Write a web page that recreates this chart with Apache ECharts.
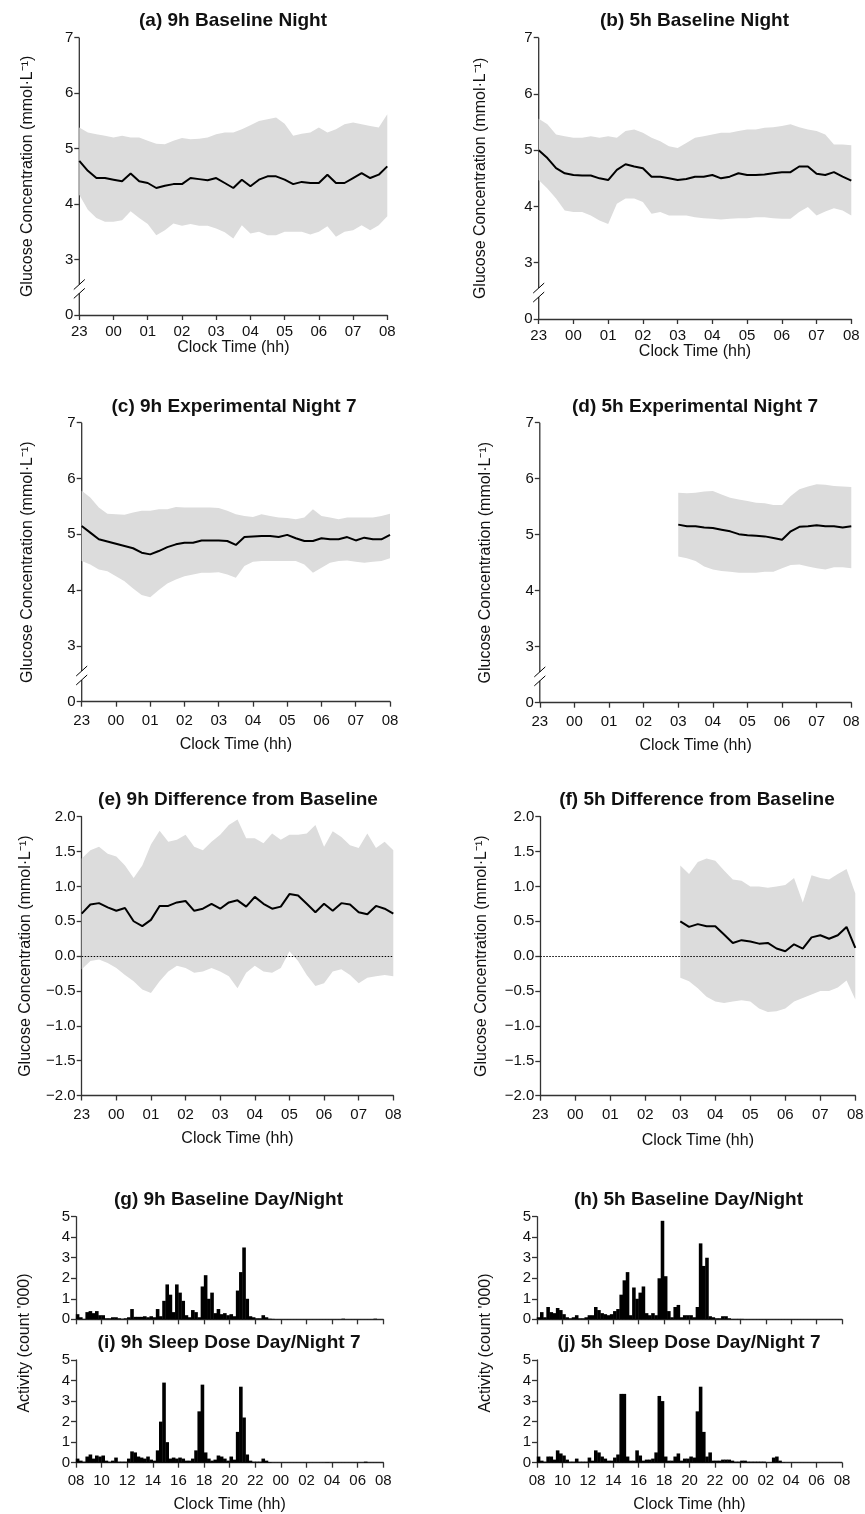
<!DOCTYPE html>
<html><head><meta charset="utf-8">
<script src="https://cdn.jsdelivr.net/npm/echarts@6/dist/echarts.min.js"></script>
<style>html,body{margin:0;padding:0;background:#fff}#c{width:865px;height:1514px}</style>
</head><body><div id="c"></div>
<script>
// ---------- DATA ----------
// Glucose panels: sampled every 15 min from 23:00 (hours after 23:00)
const nightHours = Array.from({length:37},(_,i)=>i*0.25);      // 23:00 .. 08:00
const lateHours  = Array.from({length:21},(_,i)=>4+i*0.25);    // 03:00 .. 08:00
const nightTickLabels = ['23','00','01','02','03','04','05','06','07','08'];
const dayTickLabels = ['08','10','12','14','16','18','20','22','00','02','04','06','08'];

const a_mean=[4.78,4.6,4.47,4.47,4.44,4.41,4.55,4.41,4.38,4.29,4.33,4.36,4.36,4.47,4.45,4.43,4.47,4.38,4.29,4.44,4.32,4.44,4.5,4.5,4.44,4.36,4.4,4.38,4.38,4.53,4.38,4.38,4.47,4.56,4.47,4.53,4.68];
const a_up=[5.38,5.29,5.26,5.23,5.2,5.23,5.2,5.2,5.14,5.09,5.08,5.14,5.19,5.17,5.18,5.2,5.26,5.29,5.29,5.35,5.42,5.5,5.53,5.56,5.45,5.23,5.27,5.29,5.38,5.29,5.35,5.44,5.47,5.44,5.41,5.38,5.62];
const a_lo=[4.17,3.9,3.75,3.68,3.68,3.71,3.87,3.75,3.64,3.44,3.53,3.65,3.61,3.64,3.61,3.61,3.56,3.49,3.38,3.62,3.47,3.5,3.44,3.44,3.5,3.5,3.5,3.45,3.5,3.6,3.41,3.5,3.53,3.62,3.53,3.62,3.78];

const b_mean=[5.0,4.86,4.68,4.59,4.56,4.55,4.55,4.5,4.47,4.65,4.75,4.71,4.68,4.53,4.53,4.5,4.47,4.49,4.53,4.53,4.56,4.5,4.53,4.59,4.56,4.56,4.57,4.59,4.61,4.61,4.71,4.71,4.58,4.56,4.61,4.53,4.46];
const b_up=[5.56,5.46,5.28,5.25,5.22,5.22,5.25,5.22,5.25,5.22,5.34,5.37,5.31,5.22,5.16,5.07,5.04,5.13,5.22,5.25,5.28,5.31,5.31,5.34,5.37,5.37,5.4,5.41,5.43,5.46,5.41,5.37,5.34,5.28,5.1,5.1,5.09];
const b_lo=[4.47,4.32,4.14,3.93,3.9,3.9,3.84,3.75,3.69,4.05,4.14,4.14,4.08,3.87,3.9,3.84,3.84,3.84,3.81,3.79,3.78,3.77,3.78,3.79,3.79,3.81,3.81,3.79,3.78,3.78,3.9,3.99,3.84,3.91,3.97,3.93,3.84];

const c_mean=[5.15,5.03,4.91,4.87,4.83,4.79,4.75,4.67,4.64,4.7,4.77,4.82,4.85,4.85,4.89,4.89,4.89,4.88,4.81,4.95,4.96,4.97,4.97,4.95,4.99,4.93,4.88,4.88,4.93,4.91,4.91,4.95,4.89,4.94,4.91,4.91,4.99];
const c_up=[5.78,5.66,5.48,5.37,5.36,5.35,5.39,5.42,5.42,5.45,5.45,5.49,5.48,5.48,5.48,5.48,5.47,5.42,5.36,5.33,5.31,5.36,5.33,5.3,5.29,5.27,5.3,5.45,5.33,5.3,5.27,5.3,5.3,5.3,5.3,5.33,5.37];
const c_lo=[4.52,4.46,4.37,4.34,4.25,4.16,4.03,3.91,3.87,4.0,4.12,4.19,4.25,4.28,4.31,4.31,4.32,4.28,4.22,4.43,4.51,4.52,4.52,4.52,4.52,4.52,4.46,4.31,4.4,4.49,4.52,4.53,4.51,4.49,4.51,4.52,4.57];

const d_mean=[5.18,5.15,5.15,5.13,5.12,5.09,5.06,5.01,4.99,4.98,4.97,4.94,4.91,5.06,5.14,5.15,5.17,5.15,5.15,5.13,5.15];
const d_up=[5.75,5.74,5.75,5.77,5.78,5.72,5.66,5.63,5.6,5.57,5.56,5.53,5.53,5.69,5.81,5.86,5.9,5.89,5.87,5.86,5.85];
const d_lo=[4.61,4.58,4.53,4.43,4.38,4.35,4.34,4.32,4.32,4.32,4.34,4.34,4.4,4.46,4.47,4.43,4.4,4.38,4.42,4.42,4.4];

const e_mean=[0.61,0.74,0.76,0.7,0.65,0.69,0.5,0.43,0.52,0.72,0.72,0.77,0.79,0.65,0.68,0.75,0.68,0.77,0.8,0.71,0.85,0.75,0.68,0.71,0.89,0.87,0.75,0.63,0.75,0.65,0.76,0.74,0.63,0.6,0.72,0.68,0.61];
const e_up=[1.4,1.52,1.57,1.47,1.43,1.3,1.12,1.3,1.6,1.8,1.64,1.67,1.74,1.57,1.52,1.64,1.74,1.88,1.96,1.69,1.69,1.62,1.76,1.67,1.74,1.74,1.76,1.88,1.57,1.79,1.71,1.59,1.55,1.76,1.55,1.64,1.52];
const e_lo=[-0.19,-0.07,-0.05,-0.1,-0.17,-0.27,-0.36,-0.48,-0.53,-0.36,-0.22,-0.14,-0.17,-0.24,-0.22,-0.17,-0.22,-0.29,-0.46,-0.24,-0.14,-0.22,-0.24,-0.17,0.07,-0.07,-0.27,-0.43,-0.39,-0.22,-0.19,-0.27,-0.39,-0.31,-0.29,-0.27,-0.29];

const f_mean=[0.5,0.42,0.46,0.43,0.43,0.31,0.19,0.23,0.21,0.18,0.19,0.11,0.07,0.17,0.11,0.27,0.3,0.25,0.3,0.42,0.12];
const f_up=[1.3,1.18,1.35,1.4,1.37,1.23,1.1,1.08,1.0,1.0,0.98,1.0,1.02,1.12,0.77,1.16,1.12,1.1,1.18,1.25,0.9];
const f_lo=[-0.31,-0.36,-0.46,-0.58,-0.65,-0.67,-0.65,-0.63,-0.65,-0.75,-0.8,-0.79,-0.75,-0.65,-0.6,-0.55,-0.5,-0.5,-0.45,-0.35,-0.62];

// Activity panels: 15-min bins from 08:00 (bin centres, hours after 08:00)
const dayBins = Array.from({length:96},(_,i)=>i*0.25+0.125);
const g_act=[
0.25,0.1,0.02,0.35, 0.4,0.3,0.4,0.2, 0.2,0.05,0.05,0.1, 0.1,0.05,0.03,0.05,
0.1,0.5,0.12,0.12, 0.12,0.15,0.1,0.15, 0.1,0.5,0.15,0.9, 1.7,1.2,0.35,1.7,
1.3,0.9,0.2,0.1, 0.45,0.35,0.1,1.6, 2.15,1.0,1.3,0.3, 0.5,0.25,0.3,0.2,
0.25,0.15,1.4,2.3, 3.5,1.0,0.15,0.1, 0.05,0.05,0.2,0.1, 0.03,0.02,0.01,0.01,
0.01,0.01,0.01,0.01, 0.01,0.01,0.01,0.01, 0.01,0.01,0.01,0.01, 0.01,0.01,0.01,0.01,
0.01,0.01,0.01,0.03, 0.01,0.01,0.01,0.01, 0.01,0.01,0.01,0.01, 0.01,0.03,0.01,0.01];
const h_act=[
0.1,0.35,0.1,0.6, 0.35,0.3,0.55,0.45, 0.25,0.1,0.05,0.1, 0.2,0.05,0.05,0.1,
0.2,0.2,0.6,0.45, 0.3,0.25,0.2,0.25, 0.4,0.5,1.2,1.9, 2.3,0.2,1.55,1.0,
1.3,1.6,0.3,0.2, 0.3,0.2,2.0,4.8, 2.1,0.4,0.1,0.6, 0.7,0.1,0.2,0.2,
0.2,0.1,0.6,3.7, 2.6,3.0,0.15,0.1, 0.05,0.05,0.15,0.15, 0.05,0.02,0.02,0.02,
0.02,0.01,0.01,0.01, 0.01,0.01,0.01,0.01, 0.01,0.01,0.01,0.01, 0.01,0.01,0.01,0.01,
0.01,0.01,0.01,0.01, 0.01,0.01,0.01,0.01, 0.01,0.01,0.01,0.01, 0.01,0.01,0.01,0.01];
const i_act=[
0.2,0.1,0.05,0.3, 0.4,0.2,0.35,0.3, 0.35,0.1,0.05,0.1, 0.25,0.05,0.05,0.05,
0.2,0.55,0.5,0.3, 0.25,0.2,0.3,0.15, 0.1,0.6,2.0,3.9, 1.0,0.2,0.25,0.2,
0.25,0.2,0.1,0.1, 0.2,0.6,2.5,3.8, 0.5,0.2,0.1,0.15, 0.35,0.3,0.2,0.1,
0.3,0.15,1.5,3.7, 2.2,0.4,0.1,0.05, 0.05,0.05,0.2,0.1, 0.03,0.01,0.01,0.01,
0.01,0.01,0.01,0.01, 0.01,0.01,0.01,0.01, 0.01,0.01,0.01,0.01, 0.01,0.01,0.02,0.01,
0.01,0.01,0.01,0.01, 0.01,0.01,0.01,0.01, 0.01,0.01,0.05,0.01, 0.01,0.01,0.01,0.01];
const j_act=[
0.3,0.1,0.05,0.3, 0.3,0.15,0.6,0.45, 0.35,0.15,0.05,0.05, 0.2,0.05,0.05,0.05,
0.25,0.1,0.6,0.5, 0.3,0.2,0.1,0.1, 0.25,0.4,3.35,3.35, 0.3,0.1,0.1,0.6,
0.35,0.1,0.15,0.15, 0.2,0.5,3.25,3.0, 0.3,0.1,0.1,0.3, 0.45,0.1,0.2,0.2,
0.3,0.25,2.5,3.7, 1.5,0.3,0.5,0.1, 0.1,0.1,0.15,0.15, 0.15,0.1,0.05,0.05,
0.1,0.1,0.05,0.05, 0.05,0.05,0.05,0.05, 0.02,0.02,0.25,0.3, 0.1,0.02,0.01,0.01,
0.01,0.01,0.01,0.01, 0.01,0.01,0.01,0.01, 0.01,0.01,0.01,0.01, 0.01,0.01,0.01,0.01];

const titles = {
 a:'(a) 9h Baseline Night', b:'(b) 5h Baseline Night',
 c:'(c) 9h Experimental Night 7', d:'(d) 5h Experimental Night 7',
 e:'(e) 9h Difference from Baseline', f:'(f) 5h Difference from Baseline',
 g:'(g) 9h Baseline Day/Night', h:'(h) 5h Baseline Day/Night',
 i:'(i) 9h Sleep Dose Day/Night 7', j:'(j) 5h Sleep Dose Day/Night 7'
};
const glucoseName = 'Glucose Concentration (mmol·L⁻¹)';
const clockName = 'Clock Time (hh)';
const activityName = "Activity (count '000)";

// ---------- LAYOUT / STYLE ----------
const FONT = '"Liberation Sans", Arial, Helvetica, sans-serif';
const AX = '#333';
const TXT = '#111';
const BAND = '#dcdcdc';
const L = {
 a:{left:79.3,top:37.7,width:308,height:277.3,tx:233,ty:21,yGap:44,xMargin:9,xGap:25},
 b:{left:538.7,top:37.7,width:312.6,height:281.3,tx:694.5,ty:21,yGap:50,xMargin:9,xGap:23},
 c:{left:81.7,top:422.7,width:308.3,height:279,tx:234,ty:407,yGap:46,xMargin:12,xGap:35},
 d:{left:539.8,top:422.7,width:311.5,height:280,tx:695,ty:407,yGap:46,xMargin:12,xGap:35},
 e:{left:81.7,top:816.7,width:311.6,height:278.8,tx:238,ty:800,yGap:48,xMargin:12,xGap:35},
 f:{left:540.3,top:816.7,width:315,height:279,tx:697,ty:800,yGap:51,xMargin:12,xGap:37},
 g:{left:76,top:1216.7,width:307.3,height:102.6,tx:228.5,ty:1200},
 h:{left:537,top:1216.7,width:305,height:102.6,tx:688.5,ty:1200},
 i:{left:76,top:1360,width:307.3,height:102.7,tx:229,ty:1343,xMargin:11,xGap:34},
 j:{left:537,top:1360,width:305,height:102.7,tx:689,ty:1343,xMargin:11,xGap:34}
};

const grids=[], xAxes=[], yAxes=[], series=[], graphics=[];
const axLine = {show:true,onZero:false,lineStyle:{color:AX,width:1.3}};
const axTick = {show:true,inside:false,length:5,lineStyle:{color:AX,width:1.3}};
const lbl = {color:TXT,fontSize:15,fontFamily:FONT,showMinLabel:true,showMaxLabel:true};
const nameStyle = {color:TXT,fontSize:16,fontFamily:FONT};

function addGrid(lay){
  grids.push({left:lay.left,top:lay.top,width:lay.width,height:lay.height,containLabel:false,outerBoundsMode:'none'});
  return grids.length-1;
}
function glucosePanel(key, hours, mean, up, lo, isDiff){
  const lay=L[key], k=addGrid(lay);
  xAxes.push({gridIndex:k,type:'value',min:0,max:9,interval:1,axisLine:axLine,axisTick:axTick,splitLine:{show:false},
    axisLabel:Object.assign({},lbl,{margin:lay.xMargin,formatter:v=>nightTickLabels[Math.round(v)]}),
    name:clockName,nameLocation:'middle',nameGap:lay.xGap,nameTextStyle:nameStyle});
  const y={gridIndex:k,type:'value',axisTick:axTick,splitLine:{show:false},
    name:glucoseName,nameLocation:'middle',nameRotate:90,nameGap:lay.yGap,nameTextStyle:nameStyle};
  if(isDiff){
    Object.assign(y,{min:-2,max:2,interval:0.5,axisLine:axLine,
      axisLabel:Object.assign({},lbl,{margin:6,formatter:v=>v.toFixed(1).replace('-','\u2212')})});
  } else {
    Object.assign(y,{min:2,max:7,interval:1,axisLine:{show:false},
      axisLabel:Object.assign({},lbl,{margin:6,formatter:v=>v===2?'0':String(v)})});
  }
  yAxes.push(y);
  // SD band: polygon through upper values then back through lower values, placed by the axes
  series.push({type:'custom',xAxisIndex:k,yAxisIndex:k,silent:true,animation:false,z:1,
    data:hours.map((h,i)=>[h,lo[i],up[i]]),encode:{x:0,y:[1,2]},
    renderItem:function(params,api){
      if(params.dataIndex!==0) return null;
      const pts=[];
      for(let i=0;i<hours.length;i++) pts.push(api.coord([hours[i],up[i]]));
      for(let i=hours.length-1;i>=0;i--) pts.push(api.coord([hours[i],lo[i]]));
      return {type:'polygon',shape:{points:pts},style:{fill:BAND,stroke:null}};
    }});
  const m={type:'line',xAxisIndex:k,yAxisIndex:k,symbol:'none',silent:true,animation:false,z:4,
    lineStyle:{color:'#000',width:2},data:hours.map((h,i)=>[h,mean[i]])};
  if(isDiff){
    m.markLine={symbol:['none','none'],silent:true,animation:false,label:{show:false},
      lineStyle:{type:[1.5,1.5],color:'#000',width:1},data:[{yAxis:0}]};
  }
  series.push(m);
  return k;
}
function activityPanel(key, vals, showLabels){
  const lay=L[key], k=addGrid(lay);
  const x={gridIndex:k,type:'value',min:0,max:24,interval:2,axisLine:axLine,axisTick:axTick,splitLine:{show:false},
    axisLabel:Object.assign({},lbl,{show:showLabels,margin:lay.xMargin||10,formatter:v=>dayTickLabels[Math.round(v/2)]})};
  if(showLabels){Object.assign(x,{name:clockName,nameLocation:'middle',nameGap:lay.xGap,nameTextStyle:nameStyle});}
  xAxes.push(x);
  yAxes.push({gridIndex:k,type:'value',min:0,max:5,interval:1,axisLine:axLine,axisTick:axTick,splitLine:{show:false},
    axisLabel:Object.assign({},lbl,{margin:6})});
  series.push({type:'bar',xAxisIndex:k,yAxisIndex:k,silent:true,animation:false,
    barWidth:lay.width/96+0.4,itemStyle:{color:'#000'},data:dayBins.map((t,i)=>[t,vals[i]])});
  return k;
}

const ga=glucosePanel('a',nightHours,a_mean,a_up,a_lo,false);
const gb=glucosePanel('b',nightHours,b_mean,b_up,b_lo,false);
const gc=glucosePanel('c',nightHours,c_mean,c_up,c_lo,false);
const gd=glucosePanel('d',lateHours,d_mean,d_up,d_lo,false);
glucosePanel('e',nightHours,e_mean,e_up,e_lo,true);
glucosePanel('f',lateHours,f_mean,f_up,f_lo,true);
activityPanel('g',g_act,false);
activityPanel('h',h_act,false);
activityPanel('i',i_act,true);
activityPanel('j',j_act,true);

Object.keys(titles).forEach(key=>{
  graphics.push({type:'text',x:L[key].tx,y:L[key].ty,silent:true,
    style:{text:titles[key],fontSize:19,fontWeight:'bold',fontFamily:FONT,fill:TXT,align:'center',verticalAlign:'middle'}});
});
[[25,1343],[485.5,1343]].forEach(p=>{
  graphics.push({type:'text',x:p[0],y:p[1],rotation:Math.PI/2,silent:true,
    style:{text:activityName,fontSize:16,fontFamily:FONT,fill:TXT,align:'center',verticalAlign:'middle'}});
});

const chart = echarts.init(document.getElementById('c'), null, {renderer:'canvas'});
chart.setOption({animation:false,backgroundColor:'#fff',textStyle:{fontFamily:FONT},
  grid:grids,xAxis:xAxes,yAxis:yAxes,series:series});

// broken y axis for panels a-d
[ga,gb,gc,gd].forEach(k=>{
  const P=v=>chart.convertToPixel({xAxisIndex:k,yAxisIndex:k},[0,v]);
  const top=P(7), b1=P(2.55), b2=P(2.39), bot=P(2);
  const ls={stroke:AX,lineWidth:1.3};
  graphics.push({type:'line',silent:true,shape:{x1:top[0],y1:top[1],x2:b1[0],y2:b1[1]},style:ls});
  graphics.push({type:'line',silent:true,shape:{x1:b2[0],y1:b2[1],x2:bot[0],y2:bot[1]},style:ls});
  [b1,b2].forEach(p=>{
    graphics.push({type:'line',silent:true,shape:{x1:p[0]-5.5,y1:p[1]+5,x2:p[0]+5.5,y2:p[1]-5},style:{stroke:'#000',lineWidth:1}});
  });
});
chart.setOption({graphic:{elements:graphics}});
</script></body></html>
